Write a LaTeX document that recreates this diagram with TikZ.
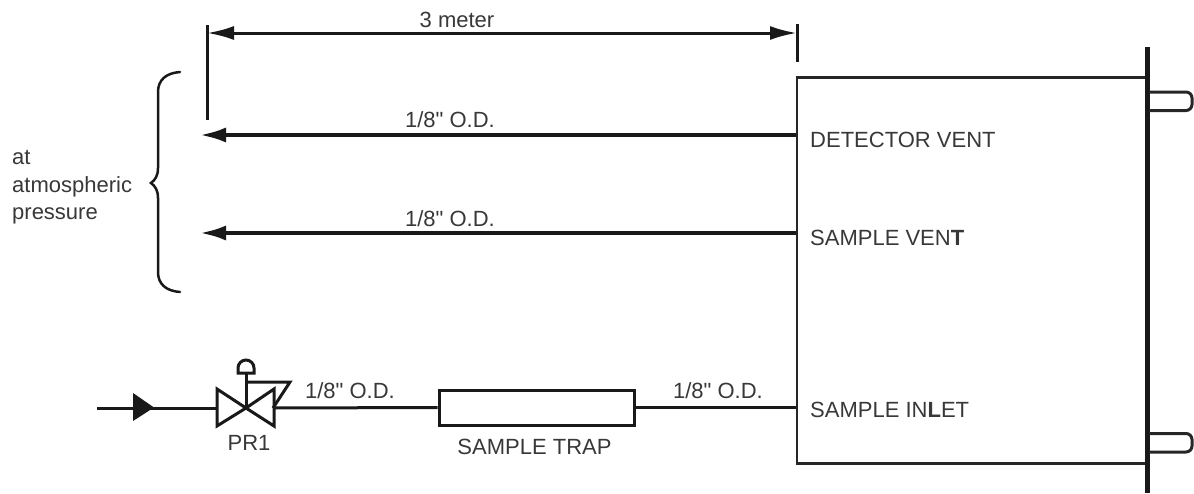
\documentclass[tikz,border=0pt]{standalone}
\usepackage{fontspec}
\setmainfont[Ligatures=TeXOff]{Liberation Sans}
\usepackage{xcolor}
\usetikzlibrary{arrows.meta, positioning, calc}
\definecolor{labelgray}{gray}{0.22}
\tikzset{
  label/.style={inner sep=0pt, text=labelgray, font=\fontsize{22}{26}\selectfont},
  tube/.style={line width=3pt, draw=black!90},
  vent/.style={line width=4.5pt, draw=black!90, -{Latex[length=27pt, width=15pt]}},
  wall/.style={line width=5pt, draw=black!90},
  housing/.style={rectangle, draw=black!85, line width=2.6pt, minimum width=349pt,
                  minimum height=386pt, inner sep=0pt},
  trap/.style={rectangle, draw=black!90, line width=3pt, minimum width=195pt,
               minimum height=35pt, inner sep=0pt},
}

\begin{document}
\begin{tikzpicture}[x=1pt, y=-1pt]
  \useasboundingbox (0,0) rectangle (1194,493);

  % Instrument box
  \node[housing] (unit) at (971.5,270.5) {};
  \node[label, anchor=west] (det) at (810,140) {DETECTOR VENT};
  \node[label, anchor=west] (sam) at (810,238) {SAMPLE VEN\textbf{T}};
  \node[label, anchor=west] (inl) at (810,410) {SAMPLE IN\textbf{L}ET};
  \draw[wall] (1147,47) -- (1147,493);
  \draw[line width=3pt, draw=black!85, rounded corners=6pt]
    (1149,92) -- (1192,92) -- (1192,110.5) -- (1149,110.5);
  \draw[line width=3pt, draw=black!85, rounded corners=6pt]
    (1149,433.5) -- (1192,433.5) -- (1192,452) -- (1149,452);

  % Vent lines
  \coordinate (ventA) at (199,135);
  \coordinate (ventB) at (199,233);
  \draw[vent] (unit.west|-ventA) -- (ventA);
  \draw[vent] (unit.west|-ventB) -- (ventB);
  \node[label] (odA) at (450,120) {1/8" O.D.};
  \node[label] (odB) at (450,219) {1/8" O.D.};

  % Dimension
  \coordinate (dimL) at (207,33);
  \coordinate (dimR) at (797,33);
  \draw[line width=3pt, draw=black!90] (207,25) -- (207,120);
  \draw[line width=3pt, draw=black!90] (797.5,24) -- (797.5,62);
  \draw[line width=3pt, draw=black!90, {Latex[length=27pt, width=14pt]}-{Latex[length=27pt, width=14pt]}]
    (dimL) -- (dimR);
  \node[label] (dim) at (457,20) {3 meter};

  % Brace
  \draw[line width=2.5pt, draw=black!90, line cap=round]
    (180,72) .. controls (166,73) and (158,80) .. (158,92) -- (158,168)
    .. controls (158,176) and (155,180) .. (151,183)
    .. controls (155,186) and (158,190) .. (158,198) -- (158,272)
    .. controls (158,284) and (166,291) .. (180,292);
  \node[label, anchor=base west] (at) at (12,164) {at};
  \node[label, anchor=base west] (atm) at (12,192) {atmospheric};
  \node[label, anchor=base west] (pre) at (12,219) {pressure};

  % Sample line
  \coordinate (feed) at (97,408);
  \coordinate (vc) at (246,408);
  \node[trap] (st) at (536.5,407.5) {};
  \draw[tube] (feed) -- (217,408);
  \fill[black!90] (133,393) -- (154,407.5) -- (133,421) -- cycle;
  \draw[tube] (273,408) -- (st.west);
  \draw[tube] (st.east) -- (unit.west|-st.east);
  \node[label] (odC) at (350,391) {1/8" O.D.};
  \node[label] (odD) at (718,391) {1/8" O.D.};
  \node[label] (tl) at (534.5,447) {SAMPLE TRAP};

  % Valve
  \draw[tube, line join=miter] (vc) -- (217,389) -- (217,426) -- cycle;
  \draw[tube, line join=miter] (vc) -- (274,389) -- (274,426) -- cycle;
  \draw[tube] (vc) -- (246,373);
  \draw[tube] (238,373) -- (238,368) arc[start angle=180, end angle=360, radius=8] -- (254,373) -- cycle;
  \draw[tube] (246,382) -- (290,382) -- (273,408);
  \node[label] (pr) at (249,443) {PR1};
\end{tikzpicture}
\end{document}
